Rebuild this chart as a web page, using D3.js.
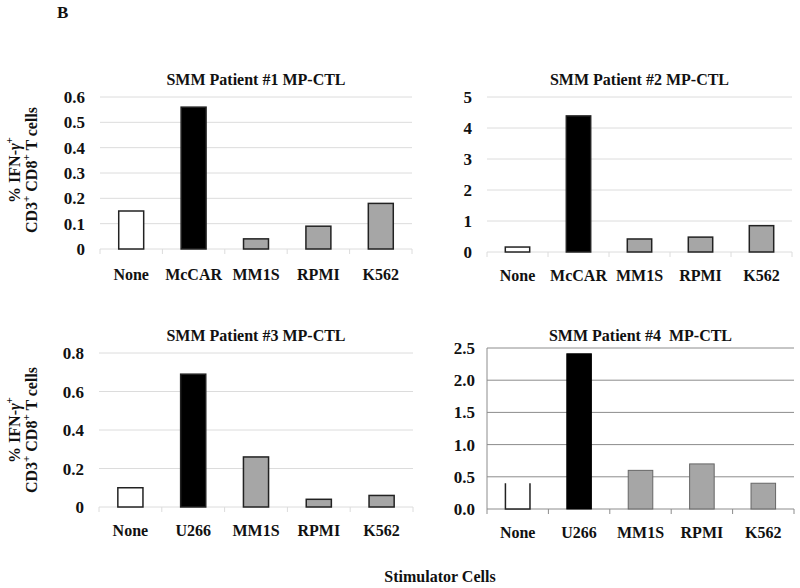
<!DOCTYPE html>
<html><head><meta charset="utf-8">
<script src="https://cdn.jsdelivr.net/npm/d3@7"></script>
<style>
body{margin:0;background:#fff;}
svg text{font-family:'Liberation Serif','Times New Roman','DejaVu Serif',serif;font-weight:700;fill:#111;white-space:pre;}
</style></head>
<body><svg id="c" width="800" height="588" font-family="Liberation Serif, DejaVu Serif, serif"></svg>
<script>
// ---- data ----
const titles = ["SMM Patient #1 MP-CTL","SMM Patient #2 MP-CTL","SMM Patient #3 MP-CTL","SMM Patient #4  MP-CTL"];
const cats12 = ["None","McCAR","MM1S","RPMI","K562"];
const cats34 = ["None","U266","MM1S","RPMI","K562"];
const vals1 = [0.15,0.56,0.04,0.09,0.18];
const vals2 = [0.16,4.39,0.42,0.48,0.85];
const vals3 = [0.10,0.69,0.26,0.04,0.06];
const vals4 = [0.40,2.41,0.60,0.70,0.40];
const ticks1 = [0,0.1,0.2,0.3,0.4,0.5,0.6];
const ticks2 = [0,1,2,3,4,5];
const ticks3 = [0,0.2,0.4,0.6,0.8];
const ticks4 = [0,0.5,1.0,1.5,2.0,2.5];
const barKinds = ["none","stim","other","other","other"];

const panels = [
  {title:titles[0],cats:cats12,vals:vals1,ticks:ticks1,max:0.6,fmt:d=>d===0?"0":d3.format(".1f")(d),
   x0:100,x1:412,yTop:97,yBot:249,titleY:85,catY:280,labelRight:85,style:"light",ylab:true,ylabY:170},
  {title:titles[1],cats:cats12,vals:vals2,ticks:ticks2,max:5,fmt:d3.format("d"),
   x0:487,x1:792,yTop:97,yBot:252,titleY:85,catY:281,labelRight:472,style:"light",ylab:false},
  {title:titles[2],cats:cats34,vals:vals3,ticks:ticks3,max:0.8,fmt:d=>d===0?"0":d3.format(".1f")(d),
   x0:99,x1:413,yTop:353,yBot:507,titleY:341,catY:536,labelRight:84,style:"light",ylab:true,ylabY:430},
  {title:titles[3],cats:cats34,vals:vals4,ticks:ticks4,max:2.5,fmt:d3.format(".1f"),
   x0:487,x1:794,yTop:348,yBot:509,titleY:341,catY:538,labelRight:475,style:"dark",ylab:false}
];

const svg = d3.select("#c");
svg.append("text").attr("x",57).attr("y",18).attr("font-size",17).text("B");

panels.forEach((p,pi)=>{
  const g = svg.append("g");
  const x = d3.scaleBand().domain(p.cats).range([p.x0,p.x1]).paddingInner(0.6).paddingOuter(0.3);
  const y = d3.scaleLinear().domain([0,p.max]).range([p.yBot,p.yTop]);
  const gridCol = p.style==="dark" ? "#8c8c8c" : "#dcdcdc";
  g.selectAll(".grid").data(p.ticks).enter().append("line")
    .attr("x1",p.x0).attr("x2",p.x1).attr("y1",d=>y(d)).attr("y2",d=>y(d))
    .attr("stroke",gridCol).attr("stroke-width",1);
  if(p.style==="dark"){
    g.append("line").attr("x1",p.x0).attr("x2",p.x0).attr("y1",p.yTop).attr("y2",p.yBot)
      .attr("stroke",gridCol);
  }
  const bounds = d3.range(p.cats.length+1).map(i=>p.x0+i*(p.x1-p.x0)/p.cats.length);
  g.selectAll(".xt").data(bounds).enter().append("line")
    .attr("x1",d=>d).attr("x2",d=>d).attr("y1",p.yBot).attr("y2",p.yBot+5)
    .attr("stroke",gridCol);
  g.selectAll(".yl").data(p.ticks).enter().append("text")
    .attr("x",p.labelRight).attr("y",d=>y(d)+6).attr("text-anchor","end")
    .attr("font-size",17).text(p.fmt);
  p.vals.forEach((v,i)=>{
    const kind = barKinds[i];
    const bx = x(p.cats[i]), bw = x.bandwidth();
    const fill = kind==="none" ? "#fff" : kind==="stim" ? "#000" : "#a6a6a6";
    if(p.style==="dark" && kind==="none"){
      g.append("rect").attr("x",bx).attr("y",y(v)).attr("width",bw).attr("height",y(0)-y(v)).attr("fill","#fff");
      g.append("path").attr("d",`M${bx},${y(v)}V${y(0)}H${bx+bw}V${y(v)}`)
        .attr("fill","none").attr("stroke","#222").attr("stroke-width",1.5);
    } else {
      g.append("rect").attr("x",bx).attr("y",y(v)).attr("width",bw).attr("height",y(0)-y(v))
        .attr("fill",fill)
        .attr("stroke", p.style==="dark" ? (kind==="stim"?"#000":"#666") : "#222")
        .attr("stroke-width", p.style==="dark" ? 1 : 1.5);
    }
  });
  g.selectAll(".cl").data(p.cats).enter().append("text")
    .attr("x",d=>x(d)+x.bandwidth()/2).attr("y",p.catY).attr("text-anchor","middle")
    .attr("font-size",16).text(d=>d);
  g.append("text").attr("x",(p.x0+p.x1)/2).attr("y",p.titleY).attr("text-anchor","middle")
    .attr("font-size",16).text(p.title);
  if(p.ylab){
    const t1 = svg.append("text").attr("transform",`translate(20,${p.ylabY}) rotate(-90)`)
      .attr("text-anchor","middle").attr("font-size",16);
    t1.append("tspan").text("% IFN-");
    t1.append("tspan").attr("font-style","italic").text("γ");
    t1.append("tspan").attr("font-size",11).attr("dy",-7).text("+");
    const t2 = svg.append("text").attr("transform",`translate(37,${p.ylabY}) rotate(-90)`)
      .attr("text-anchor","middle").attr("font-size",16);
    t2.append("tspan").text("CD3");
    t2.append("tspan").attr("font-size",11).attr("dy",-7).text("+");
    t2.append("tspan").attr("dy",7).text(" CD8");
    t2.append("tspan").attr("font-size",11).attr("dy",-7).text("+");
    t2.append("tspan").attr("dy",7).text(" T cells");
  }
});
svg.append("text").attr("x",440).attr("y",582).attr("text-anchor","middle").attr("font-size",16).text("Stimulator Cells");
</script></body></html>
